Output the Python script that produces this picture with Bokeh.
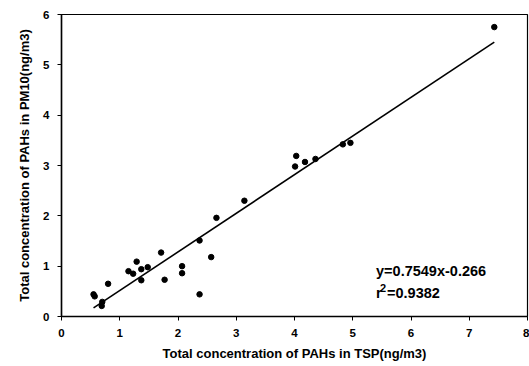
from bokeh.plotting import figure
from bokeh.models import Range1d, FixedTicker, Label, Title
from bokeh.embed import file_html
from bokeh.resources import INLINE

# Data
tsp = [0.55, 0.57, 0.70, 0.69, 0.80, 1.15, 1.23, 1.29, 1.37, 1.37, 1.48, 1.71, 1.77,
       2.07, 2.07, 2.37, 2.37, 2.57, 2.66, 3.14, 4.01, 4.03, 4.18, 4.36, 4.83, 4.96, 7.43]
pm10 = [0.44, 0.40, 0.29, 0.21, 0.65, 0.90, 0.85, 1.09, 0.94, 0.72, 0.98, 1.27, 0.73,
        1.00, 0.86, 1.51, 0.44, 1.18, 1.96, 2.30, 2.98, 3.19, 3.07, 3.13, 3.42, 3.45, 5.75]
fit_x = [0.55, 7.43]
fit_y = [0.17, 5.45]
equation = "y=0.7549x-0.266"
r2_value = "=0.9382"
x_ticks = [0, 1, 2, 3, 4, 5, 6, 7, 8]
y_ticks = [0, 1, 2, 3, 4, 5, 6]

FONT = "Liberation Sans"

p = figure(width=529, height=366, output_backend="svg", toolbar_location=None,
           x_range=Range1d(0, 8), y_range=Range1d(0, 6),
           min_border_left=61, min_border_right=2, min_border_top=14, min_border_bottom=50)
p.grid.visible = False
p.outline_line_color = "black"
p.outline_line_width = 1.2
p.background_fill_color = "white"
p.border_fill_color = "white"

p.line(fit_x, fit_y, line_color="black", line_width=1.6)
p.scatter(tsp, pm10, size=5.5, color="black")

for ax in (p.xaxis[0], p.yaxis[0]):
    ax.axis_line_color = "black"
    ax.axis_line_width = 1.5
    ax.major_tick_in = 0
    ax.major_tick_out = 4
    ax.minor_tick_line_color = None
    ax.major_label_text_font = FONT
    ax.major_label_text_font_style = "bold"
    ax.major_label_text_font_size = "11.5px"
    ax.major_label_text_color = "black"
    ax.axis_label_text_font = FONT
    ax.axis_label_text_font_style = "bold"
    ax.axis_label_text_font_size = "13px"
    ax.axis_label_text_color = "black"
    ax.major_label_standoff = 8

p.xaxis.ticker = FixedTicker(ticks=x_ticks)
p.yaxis.ticker = FixedTicker(ticks=y_ticks)
p.yaxis.axis_label = "Total concentration of PAHs in PM10(ng/m3)"
p.yaxis.axis_label_standoff = 8

p.add_layout(Title(text="Total concentration of PAHs in TSP(ng/m3)", align="center",
                   offset=-12, standoff=8, text_font=FONT, text_font_style="bold",
                   text_font_size="13px", text_color="black"), "below")

common = dict(x_units="data", y_units="data", text_font=FONT, text_font_style="bold",
              text_color="black", text_baseline="alphabetic")
p.add_layout(Label(x=5.40, y=0.90, text=equation, text_font_size="14.5px", **common))
p.add_layout(Label(x=5.40, y=0.47, text="r", text_font_size="14.5px", **common))
p.add_layout(Label(x=5.40, y=0.47, x_offset=4, y_offset=5, text="2", text_font_size="11px", **common))
p.add_layout(Label(x=5.40, y=0.47, x_offset=11, text=r2_value, text_font_size="14.5px", **common))

open("out.html", "w").write(file_html(p, INLINE))
